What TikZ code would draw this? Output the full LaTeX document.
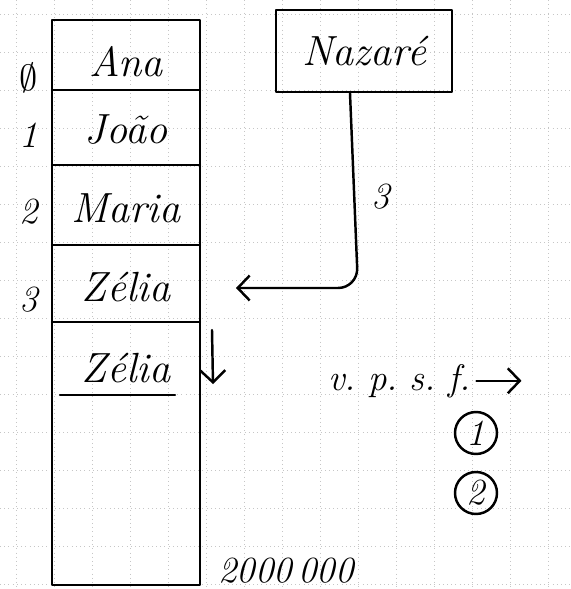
\documentclass[tikz,border=0pt]{standalone}
\usetikzlibrary{arrows.meta}
\tikzset{
  entry/.style={font=\fontsize{24}{26}\selectfont\itshape},
  idx/.style={font=\fontsize{21}{23}\selectfont\itshape},
  hand/.style={line width=1.4pt, line cap=round, line join=round},
  barb/.style={-{Straight Barb[length=2.4mm,width=5mm]}},
  ring/.style={hand, draw, circle, idx, inner sep=0pt, minimum size=8.4mm},
}
\begin{document}
\begin{tikzpicture}[x=0.2mm,y=-0.2mm]
		\useasboundingbox (0,0) rectangle (571,589);
		% squared paper
		\foreach \x in {16,54,...,550}
			\draw[gray!45, dotted] (\x,0) -- (\x,589);
		\foreach \y in {14,52,...,589}
			\draw[gray!45, dotted] (0,\y) -- (571,\y);
		% the array
		\draw[hand] (52,20) rectangle (200,585);
		\foreach \y in {90,165,245,322}
			\draw[hand] (52,\y) -- (200,\y);
		\draw[hand] (60,395) -- (175,395);
		\foreach \t/\y [count=\n from 0] in {Ana/62, João/130, Maria/208, Zélia/287, Zélia/368}
			\node[entry] (cell\n) at (126,\y) {\t};
		\foreach \t/\y [count=\n from 0] in {$\emptyset$/78, 1/135, 2/212, 3/300}
			\node[idx] (idx\n) at (29,\y) {\t};
		% new name
		\node[hand, draw, entry, minimum width=35.2mm, minimum height=16.4mm] (nazare) at (364,51) {Nazaré};
		\coordinate (zarrow) at (236,288);
		\draw[hand, barb, rounded corners=4mm] ([xshift=-2.8mm]nazare.south) -- (358,288) -- (zarrow);
		\node[idx] (lbl3) at (381,197) {3};
		% shift down
		\coordinate (dtop) at (212,330);
		\coordinate (dend) at (213,384);
		\draw[hand, barb] (dtop) -- (dend);
		% right notes
		\node[idx, anchor=base west] (vpsf) at (322,390) {v.\,\,p.\,\,s.\,\,f.};
		\draw[hand, barb] (vpsf.east) -- ++(9mm,0);
		\node[ring] (c1) at (476,433) {1};
		\node[ring] (c2) at (476,493) {2};
		\node[idx, anchor=base west] (total) at (212,582) {2000\,000};
	\end{tikzpicture}
\end{document}
